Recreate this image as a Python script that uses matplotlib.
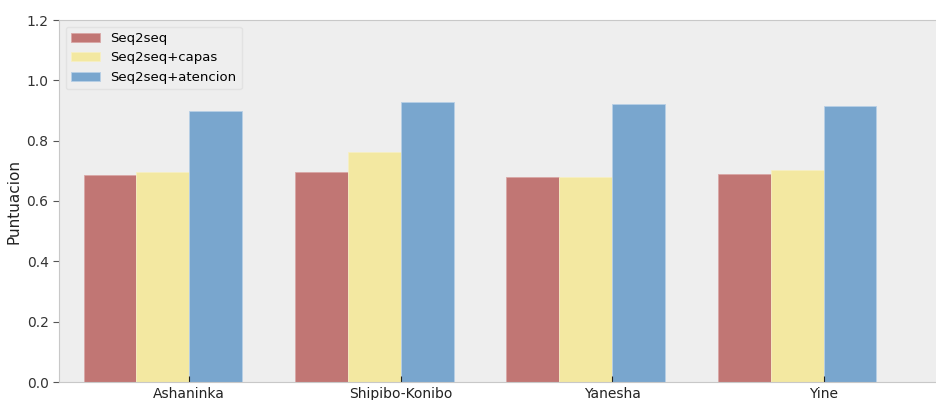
import numpy as np
import matplotlib.pyplot as plt

# Datos
idiomas = ['Ashaninka', 'Shipibo-Konibo', 'Yanesha', 'Yine']
seq2seq = [0.685, 0.695, 0.681, 0.691]
seq2seq_capas = [0.697, 0.761, 0.681, 0.704]
seq2seq_atencion = [0.898, 0.929, 0.920, 0.915]

x = np.arange(len(idiomas))
w = 0.25

fig = plt.figure(figsize=(9.37, 4.0), dpi=100)
ax = fig.add_axes([59 / 937, 0.045, 1 - 59 / 937 + 0.002, 0.905])
ax.set_facecolor('#eeeeee')

ax.bar(x - 1.5 * w, seq2seq, w, color='#c17674', edgecolor='#d9a7a6', linewidth=0.6, label='Seq2seq')
ax.bar(x - 0.5 * w, seq2seq_capas, w, color='#f3e8a1', edgecolor='#f7efc3', linewidth=0.6, label='Seq2seq+capas')
ax.bar(x + 0.5 * w, seq2seq_atencion, w, color='#79a6ce', edgecolor='#b7cfe6', linewidth=0.6, label='Seq2seq+atencion')

ax.set_xticks(x)
ax.set_xticklabels(idiomas)
ax.set_xlim(-0.616, 3.545)
ax.set_ylim(0, 1.2)
ax.set_yticks(np.arange(0, 1.21, 0.2))
ax.set_ylabel('Puntuacion', fontsize=11, color='#222222')

for s in ['top', 'bottom', 'left']:
    ax.spines[s].set_color('#c8c8c8')
ax.spines['right'].set_visible(False)
ax.tick_params(axis='y', direction='out', length=4, color='#555555', labelsize=10, labelcolor='#333333')
ax.tick_params(axis='x', direction='in', length=4, color='#222222', labelsize=10, labelcolor='#222222')

ax.legend(loc='upper left', fontsize=9.5, facecolor='#eeeeee', edgecolor='#e2e2e2', framealpha=1,
          handlelength=2.2)

plt.savefig('out.png', dpi=100)
